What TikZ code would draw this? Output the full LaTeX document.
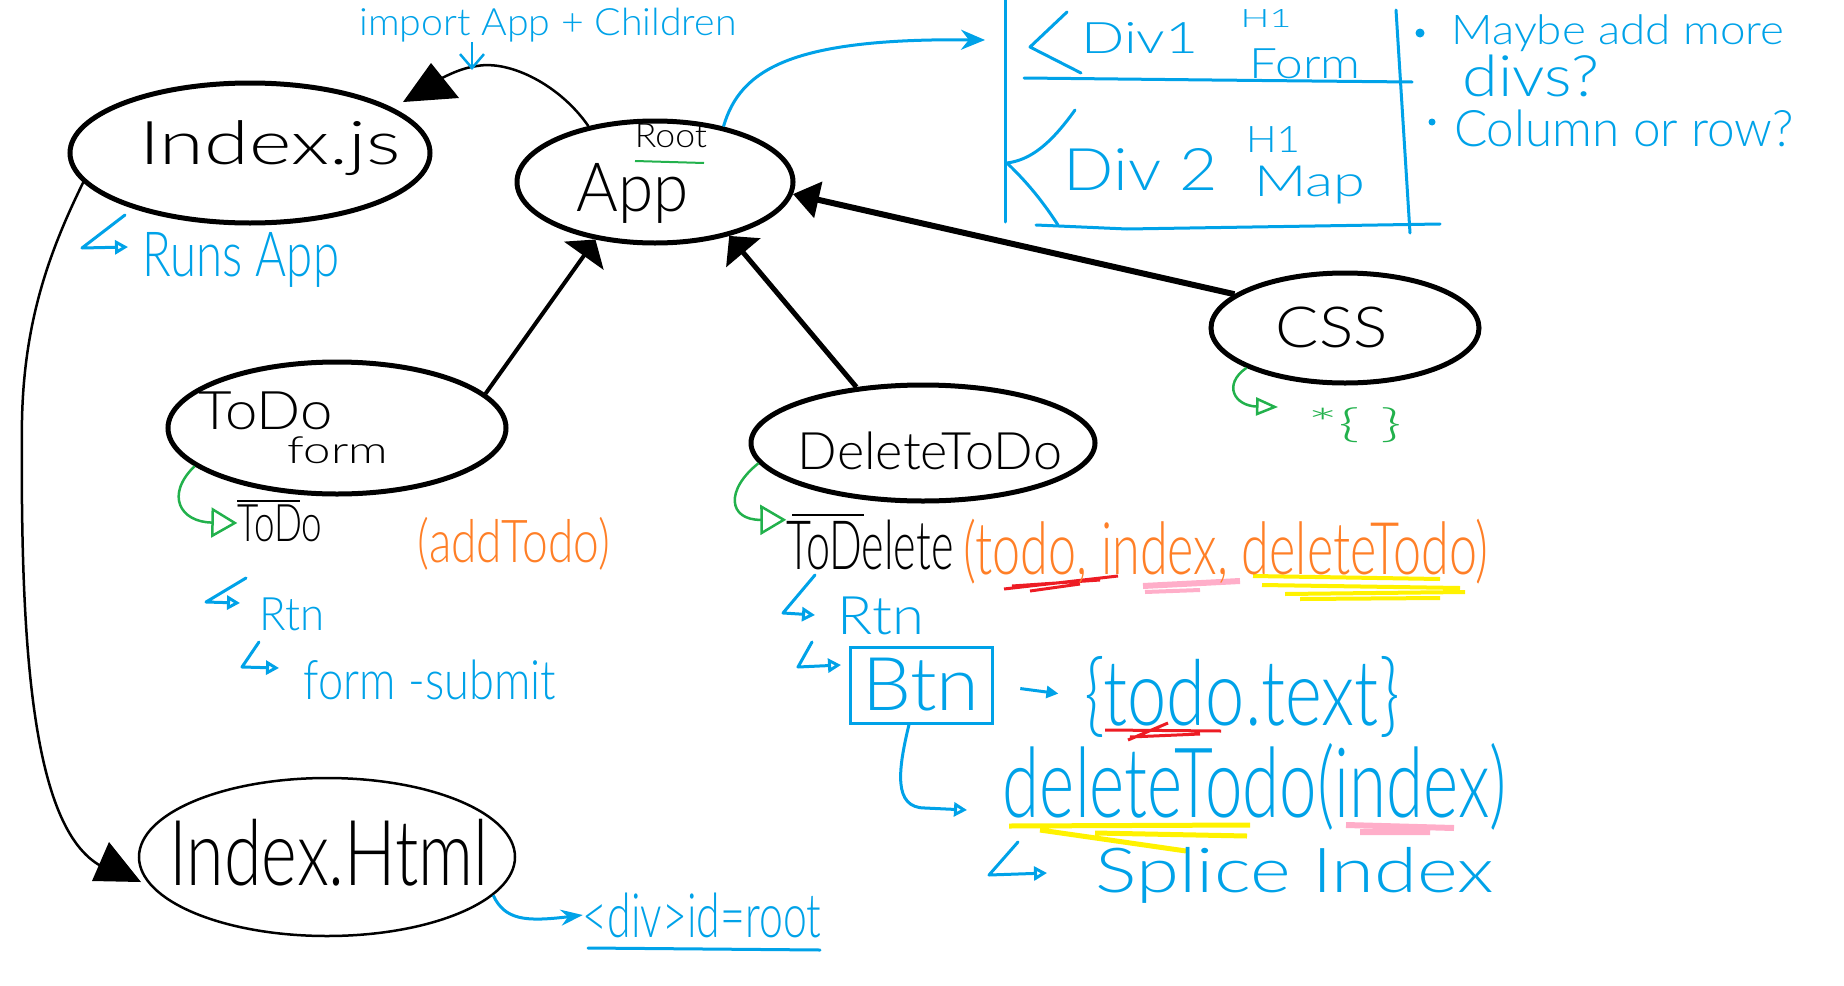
\documentclass[tikz,border=0pt]{standalone}
\usepackage{fontspec}
\setmainfont{Lato Light}
\usepackage{graphicx}
\usetikzlibrary{shapes.geometric,arrows.meta}
\definecolor{pblue}{HTML}{00A2E8}
\definecolor{pgreen}{HTML}{22B14C}
\definecolor{porange}{HTML}{FF7F27}
\definecolor{pred}{HTML}{ED1C24}
\definecolor{ppink}{HTML}{FFAEC9}
\definecolor{pyellow}{HTML}{FFF200}
\newcommand{\fb}[3]{\resizebox*{#1pt}{#2pt}{#3}}
\begin{document}
\begin{tikzpicture}[x=1pt,y=-1pt,
  ell/.style={ellipse, draw, line width=5pt, inner sep=0pt},
  lbl/.style={inner sep=0pt, anchor=center},
  bl/.style={lbl, text=pblue},
  hookb/.style={pblue, line width=3pt, line join=round, line cap=round, -{Triangle[open,length=13pt,width=14pt]}},
  ghook/.style={pgreen, line width=2.5pt, -{Triangle[open,length=26pt,width=30pt]}},
  bline/.style={pblue, line width=3pt, line cap=round, line join=round}]
\useasboundingbox (0,0) rectangle (1844,985);

% ---- highlights (under text)
\draw[pred, line width=3pt] (1004,589) -- (1118,576) (1012,586) -- (1100,580) (1030,591) -- (1080,584);
\draw[ppink, line width=6pt] (1143,586) -- (1240,581);
\draw[ppink, line width=4pt] (1145,592) -- (1200,590);
\draw[pyellow, line width=4pt] (1253,576) -- (1440,579) (1262,585) -- (1460,588) (1285,594) -- (1465,592) (1300,599) -- (1440,598);
\draw[pred, line width=3pt] (1105,730) -- (1221,731) (1128,740) -- (1168,723) (1130,737) -- (1200,734);
\draw[pyellow, line width=5pt] (1009,826) -- (1250,825) (1095,833) -- (1247,836) (1040,830) -- (1186,851);
\draw[ppink, line width=6pt] (1346,825) -- (1454,828) (1360,832) -- (1430,832);

% ---- ellipses
\node[ell, minimum width=360pt, minimum height=140pt] (js) at (250,153) {};
\node[ell, minimum width=276pt, minimum height=122pt] (app) at (655,182) {};
\node[ell, minimum width=338pt, minimum height=132pt] (todo) at (337,428) {};
\node[ell, minimum width=344pt, minimum height=116pt] (del) at (923,443) {};
\node[ell, minimum width=268pt, minimum height=110pt] (css) at (1345,328) {};
\node[ell, line width=2.5pt, minimum width=376pt, minimum height=158pt] (html) at (327,857) {};

% ---- black texts
\node[lbl] (jsT) at (270,148) {\fb{261}{55}{Index.js}};
\node[lbl] (appT) at (633,193) {\fb{112}{60}{App}};
\node[lbl] (rootT) at (671,136) {\fb{72}{24}{Root}};
\node[lbl] (todoT) at (266,411) {\fb{134}{38}{ToDo}};
\node[lbl] (formT) at (338,450) {\fb{100}{27}{form}};
\node[lbl] (delT) at (930,451) {\fb{264}{38}{DeleteToDo}};
\node[lbl] (cssT) at (1332,327) {\fb{112}{41}{CSS}};
\node[lbl] (htmlT) at (329,853) {\fb{319}{67}{Index.Html}};
\node[lbl] (todo2T) at (280,523) {\fb{85}{37}{ToDo}};
\node[lbl] (todelT) at (870,545) {\fb{167}{50}{ToDelete}};
\draw[line width=2.5pt] (237,501) -- (300,501);
\draw[line width=2.5pt] (792,515) -- (864,515);
\draw[pgreen, line width=2pt] (635,161) -- (704,163);

% ---- orange / green texts
\node[lbl, text=porange] (addT) at (514,544) {\fb{192}{53}{(addTodo)}};
\node[lbl, text=porange] (argsT) at (1226,552) {\fb{525}{65}{(todo, index, deleteTodo)}};
\node[lbl, text=pgreen] (cssruleT) at (1355,425) {\fb{95}{35}{*\{ \}}};

% ---- blue texts
\node[bl] (importT) at (548,25) {\fb{377}{34}{import App + Children}};
\node[bl] (runsT) at (241,260) {\fb{196}{55}{Runs App}};
\node[bl] (rtn1T) at (292,614) {\fb{65}{33}{Rtn}};
\node[bl] (submitT) at (430,680) {\fb{252}{40}{form -submit}};
\node[bl] (rtn2T) at (881,616) {\fb{86}{38}{Rtn}};
\node[bl, draw=pblue, line width=3pt, minimum width=142pt, minimum height=76pt] (btnT) at (921,685) {\fb{117}{53}{Btn}};
\node[bl] (todotextT) at (1242,697) {\fb{315}{81}{\{todo.text\}}};
\node[bl] (deltodoT) at (1255,787) {\fb{504}{87}{deleteTodo(index)}};
\node[bl] (spliceT) at (1295,875) {\fb{398}{56}{Splice Index}};
\node[bl] (divrootT) at (702,915) {\fb{238}{45}{<div>id=root}};
\draw[bline] (588,948) -- (820,950);
\node[bl] (div1T) at (1140,38) {\fb{117}{31}{Div1}};
\node[bl] (h1aT) at (1266,18) {\fb{51}{18}{H1}};
\node[bl] (formdT) at (1305,64) {\fb{111}{30}{Form}};
\node[bl] (div2T) at (1141,169) {\fb{154}{42}{Div 2}};
\node[bl] (h1bT) at (1273,139) {\fb{54}{26}{H1}};
\node[bl] (mapT) at (1310,185) {\fb{111}{38}{Map}};
\node[bl] (maybeT) at (1618,33) {\fb{333}{37}{Maybe add more}};
\node[bl] (divsT) at (1531,76) {\fb{137}{42}{divs?}};
\node[bl] (colT) at (1624,128) {\fb{340}{37}{Column or row?}};
\fill[pblue] (1420,33) circle (4.5pt) (1432,122) circle (3.5pt);

% ---- div box
\draw[bline] (1005,0) -- (1005,222);
\draw[bline] (1396,10) -- (1410,233);
\draw[bline] (1024,78) -- (1212,80) -- (1412,82);
\draw[bline] (1036,225) -- (1127,229) -- (1440,224);
\draw[bline] (1067,12) -- (1030,47) -- (1081,73);
\draw[bline] (1075,110) .. controls (1050,145) and (1030,160) .. (1007,163) .. controls (1030,185) and (1045,205) .. (1058,225);

% ---- black connectors
\draw[line width=4pt, -{Triangle[length=20pt,width=48pt]}] (todo.13) -- (app.224);
\draw[line width=5pt, -{Triangle[length=22pt,width=44pt]}] (del.140) -- (app.324);
\draw[line width=6pt, -{Triangle[length=26pt,width=36pt]}] (css.163) -- (app.355);

\coordinate (jshead) at (438,80);
\draw[line width=2.5pt] (app.140) .. controls (560,85) and (510,60) .. (477,66) .. controls (462,68) and (450,74) .. (jshead);
\fill (403,102) -- (431,63) -- (459,98) -- cycle;

\coordinate (htmlhead) at (105,868);
\draw[line width=2.5pt] (js.190) .. controls (50,250) and (24,320) .. (22,420) .. controls (20,650) and (32,835) .. (htmlhead);
\fill (92,881) -- (109,842) -- (141,882) -- cycle;

% ---- blue connectors
\coordinate (divin) at (985,40);
\draw[pblue, line width=3pt, -{Stealth[length=24pt,width=20pt]}] (app.39) .. controls (740,70) and (790,38) .. (divin);
\coordinate (imptip) at (472,70);
\draw[pblue, line width=2.5pt, -{Straight Barb[length=14pt,width=24pt]}] (importT.south -| imptip) -- (imptip);
\draw[pblue, line width=3pt, -{Stealth[length=22pt,width=16pt]}] (html.347) .. controls (505,920) and (525,922) .. (divrootT.west);
\coordinate (delarr) at (967,810);
\draw[hookb] ([xshift=-12pt]btnT.south) .. controls (898,770) and (893,808) .. (925,808) -- (delarr);
\draw[pblue, line width=3pt, -{Triangle[length=12pt,width=12pt]}, shorten <=27pt, shorten >=26pt] (btnT.east) -- (todotextT.west);

% ---- blue hook marks
\draw[hookb] (125,215) -- (82,248) -- (128,247);
\draw[hookb] (246,578) -- (206,602) -- (240,603);
\draw[hookb] (259,642) -- (242,667) -- (279,668);
\draw[hookb] (815,575) -- (783,613) -- (815,615);
\draw[hookb] (812,642) -- (798,667) -- (841,665);
\draw[hookb] (1018,842) -- (989,875) -- (1047,873);

% ---- green hooks
\draw[ghook] (todo.195) .. controls (165,495) and (180,522) .. (todo2T.west);
\draw[ghook] (del.187) .. controls (725,490) and (728,520) .. (todelT.north west);
\coordinate (cssarr) at (1278,407);
\draw[ghook, -{Triangle[open,length=22pt,width=18pt]}] (css.202) .. controls (1222,385) and (1235,406) .. (cssarr);
\end{tikzpicture}
\end{document}
